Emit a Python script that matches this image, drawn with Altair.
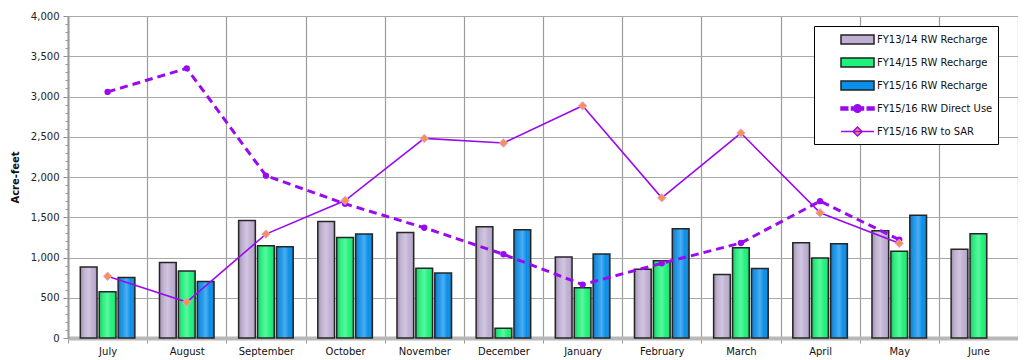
import altair as alt
import pandas as pd

months = ["July", "August", "September", "October", "November", "December",
          "January", "February", "March", "April", "May", "June"]
series_names = ["FY13/14 RW Recharge", "FY14/15 RW Recharge", "FY15/16 RW Recharge",
                "FY15/16 RW Direct Use", "FY15/16 RW to SAR"]
fy1314_recharge = [882, 937, 1460, 1448, 1312, 1382, 1006, 854, 788, 1184, 1333, 1101]
fy1415_recharge = [573, 833, 1147, 1250, 866, 120, 623, 961, 1122, 994, 1077, 1296]
fy1516_recharge = [751, 702, 1135, 1291, 808, 1345, 1043, 1357, 862, 1172, 1526, None]
fy1516_direct_use = [3057, 3350, 2017, 1667, 1370, 1040, 664, 928, 1180, 1700, 1221, None]
fy1516_to_sar = [767, 446, 1291, 1708, 2479, 2422, 2884, 1741, 2546, 1556, 1176, None]
y_ticks = list(range(0, 4001, 500))
y_minor_ticks = list(range(0, 4001, 100))

PURPLE = "#9A0AF0"
ORANGE = "#F7944A"
bar_colors = ["#BFAFD2", "#1DF27A", "#0A8FEA"]
legend_fills = bar_colors + [PURPLE, ORANGE]
legend_strokes = ["#222222", "#222222", "#222222", PURPLE, PURPLE]
legend_shapes = [
    "M-2.2,-0.6H2.2V0.6H-2.2Z",
    "M-2.2,-0.6H2.2V0.6H-2.2Z",
    "M-2.2,-0.6H2.2V0.6H-2.2Z",
    "M-2.2,-0.2H-1.3V0.2H-2.2Z M-0.8,-0.2H-0.4V0.2H-0.8Z M0.4,-0.2H0.8V0.2H0.4Z M1.3,-0.2H2.2V0.2H1.3Z "
    "M-0.5,0A0.5,0.5 0 1,1 0.5,0A0.5,0.5 0 1,1 -0.5,0Z",
    "M-2.2,0H2.2M0,-0.6L0.6,0L0,0.6L-0.6,0Z",
]
FONT = "DejaVu Sans"
legend_labels = [s + "\u00a0" * 8 for s in series_names]

bar_rows = []
for s, vals in zip(series_names[:3], [fy1314_recharge, fy1415_recharge, fy1516_recharge]):
    for m, v in zip(months, vals):
        if v is not None:
            bar_rows.append({"month": m, "series": s, "value": v})
bars_df = pd.DataFrame(bar_rows)
direct_df = pd.DataFrame([{"month": m, "value": v} for m, v in zip(months, fy1516_direct_use) if v is not None])
sar_df = pd.DataFrame([{"month": m, "value": v} for m, v in zip(months, fy1516_to_sar) if v is not None])
legend_df = pd.DataFrame({"series": legend_labels, "month": months[:5], "value": [None] * 5})

x_axis = alt.Axis(title=None, tickBand="extent", labelAngle=0, labelFont=FONT, labelFontSize=10,
                  labelColor="#111", labelPadding=3, tickSize=5, tickColor="#999",
                  domainColor="#b8b8b8", domainWidth=4, grid=True, gridColor="#9c9c9c", gridWidth=1.2)
x_enc = alt.X("month:N", sort=months, scale=alt.Scale(domain=months, paddingInner=0, paddingOuter=0), axis=x_axis)
y_scale = alt.Scale(domain=[0, 4000], nice=False)
xoff_enc = alt.XOffset("series:N", scale=alt.Scale(domain=series_names[:3], paddingInner=0.115, paddingOuter=0.65))

legend = alt.Legend(
    title=None, orient="none", legendX=746, legendY=10, fillColor="white", strokeColor="#000",
    padding=5, symbolSize=225, symbolOffset=30, labelOffset=11, rowPadding=7, labelLimit=250,
    labelFont=FONT, labelFontSize=10, labelColor="#111",
    symbolStrokeWidth=1.5, symbolOpacity=1,
)

bars = alt.Chart(bars_df).mark_bar(strokeWidth=0).encode(
    x=x_enc,
    xOffset=xoff_enc,
    y=alt.Y("value:Q", scale=y_scale,
            axis=alt.Axis(title="Acre-feet", titleFont=FONT, titleFontSize=10, titleFontWeight="bold",
                          titleColor="#111", titlePadding=10, values=y_ticks, format=",d",
                          labelFont=FONT, labelFontSize=10, labelColor="#222", labelPadding=4,
                          tickSize=5, tickColor="#888", domainColor="#9a9a9a", domainWidth=2,
                          grid=True, gridColor="#a8a8a8", gridWidth=1.2)),
    color=alt.Color("series:N", scale=alt.Scale(domain=series_names[:3], range=bar_colors), legend=None),
)

shade = alt.LinearGradient(gradient="linear", x1=0, x2=1, y1=0, y2=0, stops=[
    alt.GradientStop(color="rgba(0,0,0,0.22)", offset=0),
    alt.GradientStop(color="rgba(255,255,255,0.10)", offset=0.3),
    alt.GradientStop(color="rgba(255,255,255,0.28)", offset=0.5),
    alt.GradientStop(color="rgba(255,255,255,0.0)", offset=0.75),
    alt.GradientStop(color="rgba(0,0,0,0.22)", offset=1),
])
bars_shade = alt.Chart(bars_df).mark_bar(color=shade, stroke="#262626", strokeWidth=1.5).encode(
    x=x_enc,
    xOffset=xoff_enc,
    y=alt.Y("value:Q", scale=y_scale,
            axis=alt.Axis(orient="left", values=y_minor_ticks, labels=False, tickSize=3, tickColor="#999",
                          grid=False, domain=False, title=None)),
)

direct_line = alt.Chart(direct_df).mark_line(color=PURPLE, strokeWidth=3, strokeDash=[8, 5]).encode(
    x=x_enc, y=alt.Y("value:Q", scale=y_scale, axis=None))
direct_pts = alt.Chart(direct_df).mark_circle(color=PURPLE, size=40, opacity=1).encode(
    x=x_enc, y=alt.Y("value:Q", scale=y_scale, axis=None))
sar_line = alt.Chart(sar_df).mark_line(color=PURPLE, strokeWidth=1.6).encode(
    x=x_enc, y=alt.Y("value:Q", scale=y_scale, axis=None))
sar_pts = alt.Chart(sar_df).mark_point(shape="diamond", filled=True, fill=ORANGE, stroke="#D9A0F0",
                                       strokeWidth=1, size=70, opacity=1).encode(
    x=x_enc, y=alt.Y("value:Q", scale=y_scale, axis=None))

legend_layer = alt.Chart(legend_df).mark_point(filled=True, strokeWidth=1.5).encode(
    x=x_enc,
    y=alt.Y("value:Q", scale=y_scale, axis=None),
    fill=alt.Fill("series:N", scale=alt.Scale(domain=legend_labels, range=legend_fills), legend=legend),
    stroke=alt.Stroke("series:N", scale=alt.Scale(domain=legend_labels, range=legend_strokes), legend=legend),
    shape=alt.Shape("series:N", scale=alt.Scale(domain=legend_labels, range=legend_shapes), legend=legend),
)

chart = alt.layer(bars, bars_shade, direct_line, direct_pts, sar_line, sar_pts, legend_layer).resolve_axis(
    y="independent"
).properties(
    width=950, height=322,
    padding={"left": 60, "top": 8, "right": 0, "bottom": 22},
    autosize=alt.AutoSizeParams(type="none"),
    background="white",
).configure_view(stroke=None)

chart.save("out.html", embed_options={"renderer": "svg", "actions": False})
